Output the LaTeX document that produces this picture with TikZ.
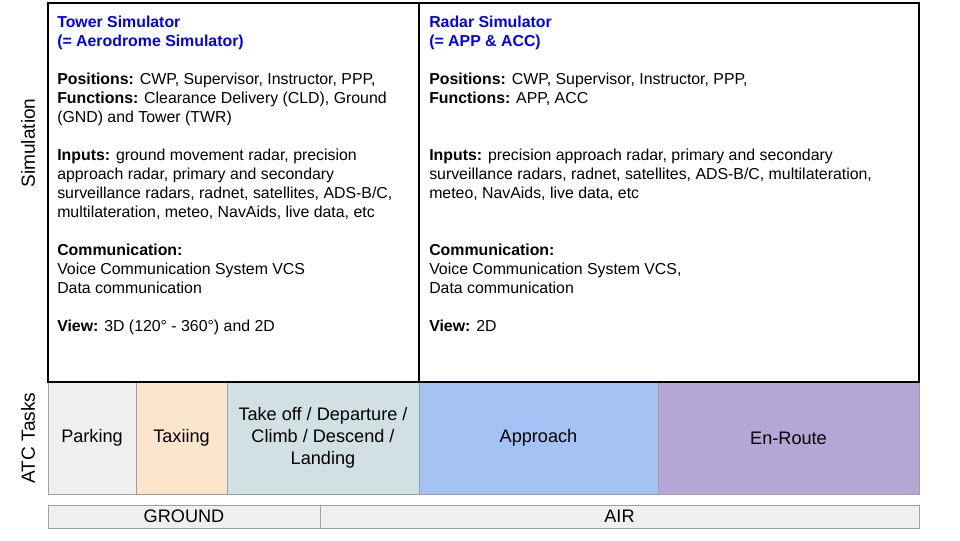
\documentclass[tikz,border=0pt]{standalone}
\usepackage{fontspec}
\setmainfont{Liberation Sans}
\usetikzlibrary{positioning}
\definecolor{titleblue}{HTML}{0000FF}
\definecolor{parkgray}{HTML}{EFEFEF}
\definecolor{taxiorange}{HTML}{FCE5CD}
\definecolor{takeoffteal}{HTML}{D0E0E3}
\definecolor{approachblue}{HTML}{A4C2F4}
\definecolor{enroutepurple}{HTML}{B4A7D6}
\definecolor{cellline}{HTML}{9E9E9E}

\begin{document}
\begin{tikzpicture}[
  x={(0.75pt,0)}, y={(0,-0.75pt)},
  every node/.style={font=\fontsize{13.6}{16.5}\selectfont},
  simbox/.style={draw=black,line width=1.6pt},
  taskcell/.style={draw=cellline,line width=0.6pt},
  infotext/.style={anchor=north west,inner sep=0pt,align=left,
    font=\fontsize{11.9}{14.25}\selectfont},
  sidelabel/.style={rotate=90,inner sep=0pt,font=\fontsize{14.3}{16}\selectfont},
  ]
  \useasboundingbox (0,0) rectangle (960,540);
  % ATC task cells
  \filldraw[taskcell,fill=parkgray] (48,382) rectangle (136,494);
  \filldraw[taskcell,fill=taxiorange] (136,382) rectangle (227,494);
  \filldraw[taskcell,fill=takeoffteal] (227,382) rectangle (419,494);
  \filldraw[taskcell,fill=approachblue] (419,382) rectangle (658,494);
  \filldraw[taskcell,fill=enroutepurple] (658,382) rectangle (919,494);
  \node (park) at (92,438) {Parking};
  \node (taxi) at (181.5,438) {Taxiing};
  \node[align=center] (takeoff) at (323,438) {Take off / Departure /\\Climb / Descend /\\Landing};
  \node (approach) at (538.5,438) {Approach};
  \node (enroute) at (788.5,438) {En-Route};
  % ground / air bar
  \filldraw[taskcell,fill=parkgray] (48,505) rectangle (320,528);
  \filldraw[taskcell,fill=parkgray] (320,505) rectangle (919,528);
  \node (ground) at (184,516.5) {GROUND};
  \node (air) at (619.5,516.5) {AIR};
  % simulator boxes
  \draw[simbox] (48,3) rectangle (419,382);
  \draw[simbox] (419,3) rectangle (919,382);
  \node[infotext] (tower) at (57,16) {%
    \textcolor{titleblue}{\textbf{Tower Simulator}}\\
    \textcolor{titleblue}{\textbf{(= Aerodrome Simulator)}}\\[14.25pt]
    \textbf{Positions:} CWP, Supervisor, Instructor, PPP,\\
    \textbf{Functions:} Clearance Delivery (CLD), Ground\\
    (GND) and Tower (TWR)\\[14.25pt]
    \textbf{Inputs:} ground movement radar, precision\\
    approach radar, primary and secondary\\
    surveillance radars, radnet, satellites, ADS-B/C,\\
    multilateration, meteo, NavAids, live data, etc\\[14.25pt]
    \textbf{Communication:}\\
    Voice Communication System VCS\\
    Data communication\\[14.25pt]
    \textbf{View:} 3D (120° - 360°) and 2D};
  \node[infotext] (radar) at (429,16) {%
    \textcolor{titleblue}{\textbf{Radar Simulator}}\\
    \textcolor{titleblue}{\textbf{(= APP \& ACC)}}\\[14.25pt]
    \textbf{Positions:} CWP, Supervisor, Instructor, PPP,\\
    \textbf{Functions:} APP, ACC\\[14.25pt]
    \\
    \textbf{Inputs:} precision approach radar, primary and secondary\\
    surveillance radars, radnet, satellites, ADS-B/C, multilateration,\\
    meteo, NavAids, live data, etc\\[14.25pt]
    \\
    \textbf{Communication:}\\
    Voice Communication System VCS,\\
    Data communication\\[14.25pt]
    \textbf{View:} 2D};
  % side labels
  \node[sidelabel] (simlabel) at (28,143) {Simulation};
  \node[sidelabel] (tasklabel) at (28,438) {ATC Tasks};
\end{tikzpicture}
\end{document}
